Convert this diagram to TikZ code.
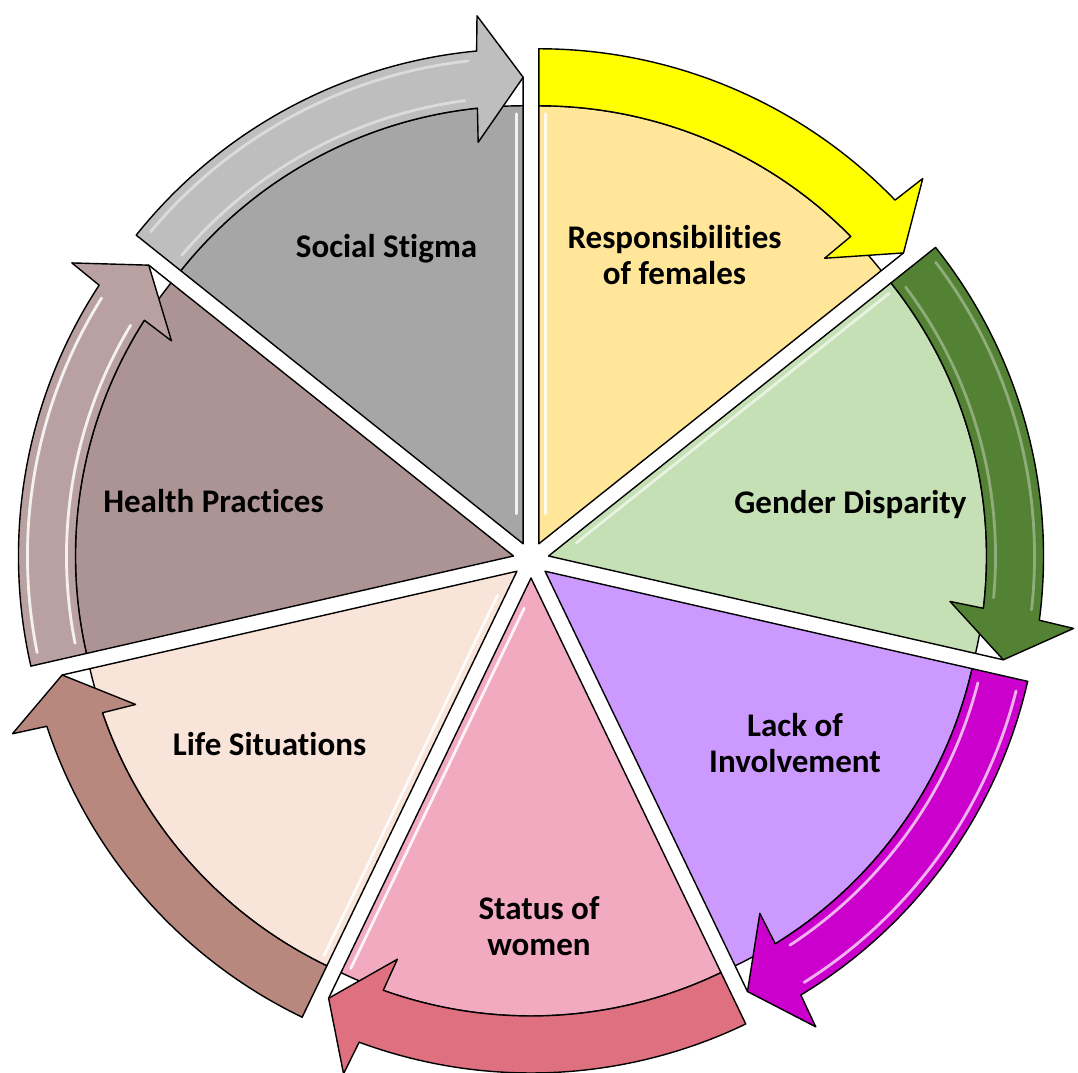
\documentclass[tikz,border=0pt]{standalone}
\usepackage{fontspec}
\setmainfont{Carlito}[Ligatures=NoCommon]
\definecolor{yellowL}{HTML}{FFE699}
\definecolor{yellowD}{HTML}{FFFF00}
\definecolor{greenL}{HTML}{C5E0B4}
\definecolor{greenD}{HTML}{548235}
\definecolor{purpleL}{HTML}{CC99FF}
\definecolor{purpleD}{HTML}{CC00CC}
\definecolor{pinkL}{HTML}{F2AAC1}
\definecolor{pinkD}{HTML}{DE7080}
\definecolor{peachL}{HTML}{F8E4D8}
\definecolor{peachD}{HTML}{B8887F}
\definecolor{mauveL}{HTML}{AD9494}
\definecolor{mauveD}{HTML}{B9A1A1}
\definecolor{grayL}{HTML}{A6A6A6}
\definecolor{grayD}{HTML}{BEBEBE}
\begin{document}
\begin{tikzpicture}[x=0.2mm,y=0.2mm,line join=round,
  outline/.style={draw=black,line width=0.8pt},
  gloss/.style={draw=white,line width=1.6pt,line cap=round},
  caption/.style={font=\fontsize{18.8}{20.5}\selectfont\bfseries,align=center,text=black,inner sep=0pt}]
\useasboundingbox (-531,-512) rectangle (547,560);
% radii of the ring: inner and outer band edge, head wings, tip
\def\segRin{438}\def\segRout{495}\def\segRmid{466.5}
\def\segWin{404}\def\segWout{530}\def\segGap{18}
% one exploded slice per factor, clockwise from the top;
% k / light fill / arrow fill / band gloss / start-edge gloss / end-edge gloss
\foreach \k/\light/\dark/\gl/\hs/\he in {
  0/yellowL/yellowD/0/0.8/0,
  1/greenL/greenD/0.35/0.6/0,
  2/purpleL/purpleD/0.7/0/0,
  3/pinkL/pinkD/0/0/0.85,
  4/peachL/peachD/0/0.9/0,
  5/mauveL/mauveD/0.85/0/0,
  6/grayL/grayD/0.45/0/0.85} {
  \pgfmathsetmacro\sa{90-51.4286*\k}
  \pgfmathsetmacro\ea{\sa-51.4286}
  \pgfmathsetmacro\bi{\sa-25.7143}
  \begin{scope}[shift={(\bi:\segGap)}]
    \coordinate (apex\k) at (0,0);
    % inner sector
    \filldraw[fill=\light,outline] (0,0) -- (\sa:\segRin)
      arc[start angle=\sa,end angle=\ea,radius=\segRin] -- (\ea:\segRmid) -- cycle;
    \ifdim\hs pt>0pt
      \draw[gloss,opacity=\hs,shift={(\sa-90:7)}] (\sa:30) -- (\sa:430);
    \fi
    \ifdim\he pt>0pt
      \draw[gloss,opacity=\he,shift={(\ea+90:7)}] (\ea:30) -- (\ea:430);
    \fi
    % curved arrow along the rim
    \filldraw[fill=\dark,outline] (\sa:\segRin) -- (\sa:\segRout)
      arc[start angle=\sa,end angle=\ea+5.4,radius=\segRout]
      -- ({\ea+5}:\segWout) -- (\ea:\segRmid) -- ({\ea+6.4}:\segWin)
      -- ({\ea+6}:\segRin)
      arc[start angle=\ea+6,end angle=\sa,radius=\segRin] -- cycle;
    \ifdim\gl pt>0pt
      \draw[gloss,opacity=\gl] ({\sa-1.6}:\segRin+9)
        arc[start angle=\sa-1.6,end angle=\ea+7.5,radius=\segRin+9];
      \draw[gloss,opacity=\gl] ({\sa-1.4}:\segRout-9)
        arc[start angle=\sa-1.4,end angle=\ea+6.5,radius=\segRout-9];
    \fi
  \end{scope}
}
\node[caption] (stigma) at (-144.5,311.3) {Social Stigma};
\node[caption] (resp) at (143.5,304.5) {Responsibilities\\of females};
\node[caption] (gender) at (319.5,55) {Gender Disparity};
\node[caption] (lack) at (264,-183) {Lack of\\Involvement};
\node[caption] (status) at (8,-366.5) {Status of\\women};
\node[caption] (life) at (-261.5,-184.5) {Life Situations};
\node[caption] (health) at (-317.5,58.5) {Health Practices};
\end{tikzpicture}
\end{document}
